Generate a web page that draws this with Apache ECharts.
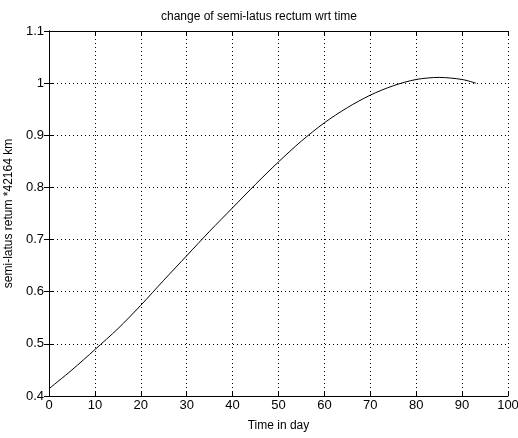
<!DOCTYPE html>
<html>
<head>
<meta charset="utf-8">
<script src="https://cdn.jsdelivr.net/npm/echarts@6/dist/echarts.min.js"></script>
<style>
  html, body { margin: 0; padding: 0; background: #fff; }
  #chart { width: 518px; height: 438px; }
</style>
</head>
<body>
<div id="chart"></div>
<script>
// Data
const days = [0, 5, 10, 15, 20, 25, 30, 35, 40, 45, 50, 55, 60, 65, 70, 75, 80, 85, 90, 93];
const semiLatus = [0.414, 0.450, 0.489, 0.529, 0.574, 0.622, 0.669, 0.716, 0.761, 0.806,
                   0.849, 0.889, 0.924, 0.953, 0.977, 0.995, 1.007, 1.011, 1.007, 1.000];
const xTicks = [0, 10, 20, 30, 40, 50, 60, 70, 80, 90, 100];

const font = 'Liberation Sans, Arial, sans-serif';
const chart = echarts.init(document.getElementById('chart'));

const dotted = { show: true, lineStyle: { color: '#000', width: 1, type: [1, 3] } };

chart.setOption({
    backgroundColor: '#fff',
    animation: false,
    title: {
        text: 'change of semi-latus rectum wrt time',
        left: 'center',
        top: 6,
        textStyle: { fontFamily: font, fontSize: 12, fontWeight: 'normal', color: '#000' }
    },
    grid: { left: 49, right: 10, top: 31, bottom: 42, outerBoundsMode: 'none' },
    xAxis: [{
        type: 'value', min: 0, max: 100, interval: 10,
        name: 'Time in day', nameLocation: 'middle', nameGap: 24,
        nameTextStyle: { fontFamily: font, fontSize: 12, color: '#000' },
        axisLine: { show: true, lineStyle: { color: '#000' } },
        axisTick: { show: true, inside: true, length: 5, lineStyle: { color: '#000' } },
        axisLabel: { fontFamily: font, fontSize: 13, color: '#000', margin: 3,
            formatter: v => xTicks.includes(v) ? String(v) : '' },
        splitLine: dotted
    }, {
        type: 'value', min: 0, max: 100, interval: 10, position: 'top',
        axisLine: { show: true, lineStyle: { color: '#000' } },
        axisTick: { show: true, inside: true, length: 5, lineStyle: { color: '#000' } },
        axisLabel: { show: false }, splitLine: { show: false }
    }],
    yAxis: [{
        type: 'value', min: 0.4, max: 1.1, interval: 0.1,
        name: 'semi-latus retum *42164 km', nameLocation: 'middle', nameGap: 31,
        nameTextStyle: { fontFamily: font, fontSize: 12, color: '#000' },
        axisLine: { show: true, lineStyle: { color: '#000' } },
        axisTick: { show: true, inside: true, length: 5, lineStyle: { color: '#000' } },
        axisLabel: { fontFamily: font, fontSize: 13, color: '#000', margin: 5,
            formatter: v => String(Math.round(v * 10) / 10) },
        splitLine: dotted
    }, {
        type: 'value', min: 0.4, max: 1.1, interval: 0.1, position: 'right',
        axisLine: { show: true, lineStyle: { color: '#000' } },
        axisTick: { show: true, inside: true, length: 5, lineStyle: { color: '#000' } },
        axisLabel: { show: false }, splitLine: { show: false }
    }],
    series: [{
        type: 'line',
        data: days.map((d, i) => [d, semiLatus[i]]),
        smooth: 0.3,
        showSymbol: false,
        lineStyle: { color: '#000', width: 1 }
    }]
});
</script>
</body>
</html>
